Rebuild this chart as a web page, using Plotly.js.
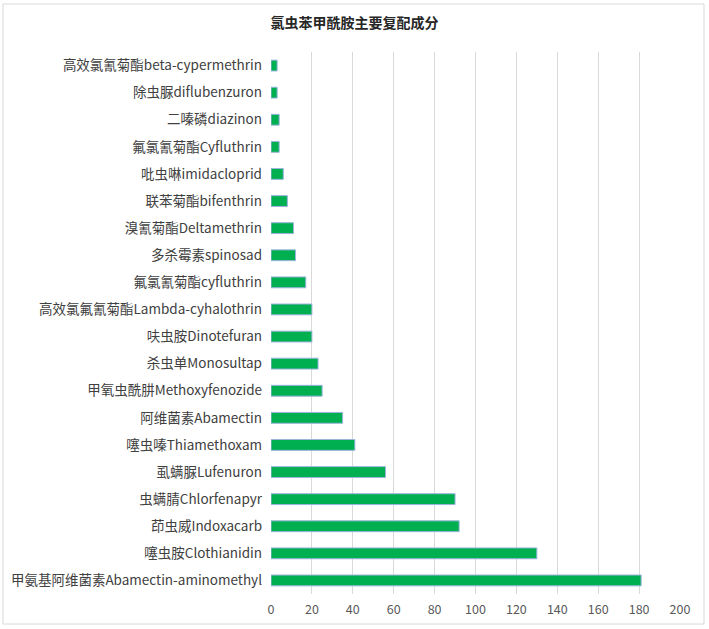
<!DOCTYPE html>
<html>
<head>
<meta charset="utf-8">
<script src="https://cdn.plot.ly/plotly-3.0.1.min.js"></script>
<style>
  body { margin: 0; background: #ffffff; }
  #chart { width: 709px; height: 629px; }
</style>
</head>
<body>
<div id="chart"></div>
<script>
// categories, bottom to top
var ingredients = [
  "甲氨基阿维菌素Abamectin-aminomethyl",
  "噻虫胺Clothianidin",
  "茚虫威Indoxacarb",
  "虫螨腈Chlorfenapyr",
  "虱螨脲Lufenuron",
  "噻虫嗪Thiamethoxam",
  "阿维菌素Abamectin",
  "甲氧虫酰肼Methoxyfenozide",
  "杀虫单Monosultap",
  "呋虫胺Dinotefuran",
  "高效氯氟氰菊酯Lambda-cyhalothrin",
  "氟氯氰菊酯cyfluthrin",
  "多杀霉素spinosad",
  "溴氰菊酯Deltamethrin",
  "联苯菊酯bifenthrin",
  "吡虫啉imidacloprid",
  "氟氯氰菊酯Cyfluthrin",
  "二嗪磷diazinon",
  "除虫脲diflubenzuron",
  "高效氯氰菊酯beta-cypermethrin"
];

var counts = [181, 130, 92, 90, 56, 41, 35, 25, 23, 20, 20, 17, 12, 11, 8, 6, 4, 4, 3, 3];

var xTicks = [0, 20, 40, 60, 80, 100, 120, 140, 160, 180, 200];

var chartDiv = document.getElementById("chart");

var barTrace = {
  type: "bar",
  orientation: "h",
  x: counts,
  y: ingredients,
  marker: {
    color: "#00b050",
    line: { color: "#9bb3dd", width: 1 },
  },
  hoverinfo: "x+y",
};

// plot area: x 271..680, y 52..594
var layout = {
  width: 709,
  height: 629,
  margin: { l: 271, r: 29, t: 52, b: 35, pad: 0 },
  paper_bgcolor: "#ffffff",
  plot_bgcolor: "#ffffff",
  showlegend: false,
  bargap: 0.6,
  font: { family: "Noto Sans CJK SC, sans-serif", size: 12, color: "#595959" },
  title: {
    text: "<b>氯虫苯甲酰胺主要复配成分</b>",
    font: { size: 14, color: "#262626" },
    x: 0.5,
    xanchor: "center",
    y: 0.963,
    yanchor: "middle",
  },
  xaxis: {
    range: [0, 200],
    tickvals: xTicks,
    ticktext: xTicks.map(String),
    showgrid: true,
    gridcolor: "#d9d9d9",
    gridwidth: 1,
    zeroline: false,
    showline: false,
    ticks: "",
    ticklabelstandoff: 6,
    tickfont: { size: 12.5, color: "#595959" },
    fixedrange: true,
  },
  yaxis: {
    type: "category",
    showgrid: false,
    zeroline: false,
    showline: false,
    ticks: "",
    ticklabelstandoff: 8,
    tickfont: { size: 13.5, color: "#404040" },
    fixedrange: true,
  },
  shapes: [
    {
      // chart outer border
      type: "rect",
      xref: "paper",
      yref: "paper",
      x0: -0.6553,
      x1: 1.0587,
      y0: -0.0554,
      y1: 1.0886,
      line: { color: "#d9d9d9", width: 1 },
      fillcolor: "rgba(0,0,0,0)",
      layer: "below",
    },
  ],
};

Plotly.newPlot(chartDiv, [barTrace], layout, { displayModeBar: false, staticPlot: true });
</script>
</body>
</html>
